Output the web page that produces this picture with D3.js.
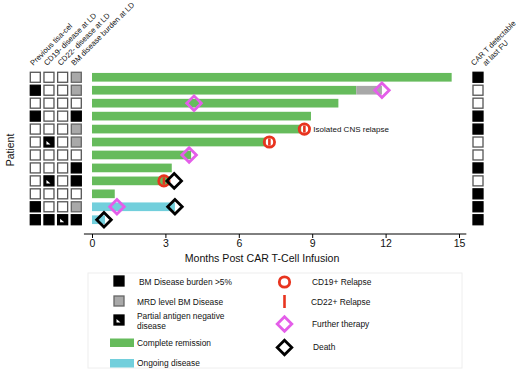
<!DOCTYPE html>
<html>
<head>
<meta charset="utf-8">
<script src="https://cdn.jsdelivr.net/npm/d3@7"></script>
<style>
  body { margin: 0; background: #fff; }
  text { font-family: "Liberation Sans", Arial, sans-serif; fill: #111; }
</style>
</head>
<body>
<script>
// one row per patient, top to bottom
const patients = ["1","2","3","4","5","6","7","8","9","10","11","12"];

// bar segments (months)
const remissionEnd = [14.7, 10.8, 10.07, 8.95, 8.55, 7.1, 4.05, 3.26, 3.19, 0.93, 0, 0];
const mrdEnd       = [0, 11.85, 0, 0, 0, 0, 0, 0, 0, 0, 0, 0];
const ongoingEnd   = [0, 0, 0, 0, 0, 0, 0, 0, 0, 0, 3.39, 0.53];

// events (months, null = none)
const cd19Relapse    = [null, null, null, null, 8.68, 7.25, null, null, 2.94, null, null, null];
const cd22Relapse    = [null, null, null, null, 8.68, 7.25, null, null, 2.94, null, null, null];
const furtherTherapy = [null, 11.85, 4.17, null, null, null, 3.97, null, null, null, 1.02, null];
const death          = [null, null, null, null, null, null, null, null, 3.36, null, 3.39, 0.49];
const notes          = [null, null, null, null, "Isolated CNS relapse", null, null, null, null, null, null, null];

// status boxes: 0 none, 1 >5% burden, 2 MRD level, 3 partial antigen negative
const gridColumns = ["Previous tisa-cel", "CD19- disease at LD", "CD22- disease at LD", "BM disease burden at LD"];
const prevTisacel = [0, 1, 0, 1, 0, 0, 0, 0, 0, 0, 1, 1];
const cd19Neg     = [0, 0, 0, 0, 0, 3, 0, 0, 3, 0, 0, 1];
const cd22Neg     = [0, 0, 0, 0, 0, 0, 0, 0, 0, 0, 0, 3];
const bmBurden    = [2, 2, 0, 1, 2, 2, 0, 1, 1, 0, 2, 1];
const cartDetect  = [1, 0, 0, 1, 1, 0, 0, 1, 0, 1, 1, 1];

const xTicks = [0, 3, 6, 9, 12, 15];

const green = "#66bb5c", cyan = "#72cfdc", grey = "#a8a8a8",
      red = "#e8341f", magenta = "#e45ee9";

const svg = d3.select("body").append("svg")
    .attr("width", 520)
    .attr("height", 372);

var x = d3.scaleLinear().domain([0, 15]).range([92, 459]);
var y = d3.scaleBand().domain(patients).range([70.8, 226.2]).paddingInner(0.33).paddingOuter(0.165);
var col = d3.scalePoint().domain(gridColumns).range([35.3, 76.3]);

const rows = patients.map(function(p, i) {
  return {p: p, cr: remissionEnd[i], mrd: mrdEnd[i], ong: ongoingEnd[i],
          c19: cd19Relapse[i], c22: cd22Relapse[i], ft: furtherTherapy[i],
          death: death[i], note: notes[i],
          grid: [prevTisacel[i], cd19Neg[i], cd22Neg[i], bmBurden[i]], cart: cartDetect[i]};
});

// ---- status boxes ----
const box = 10;
function drawBox(g, cx, cy, v) {
  g.append("rect")
    .attr("x", cx - box / 2).attr("y", cy - box / 2)
    .attr("width", box).attr("height", box)
    .attr("fill", v === 1 || v === 3 ? "#000" : v === 2 ? "#a9a9a9" : "#fff")
    .attr("stroke", v === 0 ? "#555" : v === 2 ? "#666" : "#000")
    .attr("stroke-width", 1.3);
  if (v === 3) {
    g.append("path")
      .attr("d", "M" + (cx - 2.5) + "," + (cy - 1) + "L" + (cx - 2.5) + "," + (cy + 2.5) + "L" + (cx + 1.5) + "," + (cy + 2.5) + "Z")
      .attr("fill", "#fff");
  }
}

const gridG = svg.append("g");
rows.forEach(function(r) {
  var cy = y(r.p) + y.bandwidth() / 2;
  gridColumns.forEach(function(c, j) { drawBox(gridG, col(c), cy, r.grid[j]); });
  drawBox(gridG, 478, cy, r.cart);
});

// column headers
gridG.selectAll(".hdr")
  .data(gridColumns)
  .enter().append("text")
    .attr("class", "hdr")
    .attr("transform", function(d) { return "translate(" + (col(d) - 2) + ",66) rotate(-45)"; })
    .attr("font-size", 7.6)
    .text(function(d) { return d; });

var cartHdr = gridG.append("text")
    .attr("transform", "translate(474,66) rotate(-45)")
    .attr("font-size", 7.6);
cartHdr.append("tspan").attr("x", 0).attr("dy", 0).text("CAR T detectable");
cartHdr.append("tspan").attr("x", 8).attr("dy", 8.5).text("at last FU");

svg.append("text")
    .attr("transform", "translate(14,150) rotate(-90)")
    .attr("text-anchor", "middle")
    .attr("font-size", 10.5)
    .text("Patient");

// ---- bars ----
const bars = svg.append("g");
bars.selectAll(".cr")
  .data(rows.filter(function(d) { return d.cr > 0; }))
  .enter().append("rect")
    .attr("x", x(0)).attr("y", function(d) { return y(d.p); })
    .attr("width", function(d) { return x(d.cr) - x(0); })
    .attr("height", y.bandwidth())
    .attr("fill", green);

bars.selectAll(".mrd")
  .data(rows.filter(function(d) { return d.mrd > 0; }))
  .enter().append("rect")
    .attr("x", function(d) { return x(d.cr); }).attr("y", function(d) { return y(d.p); })
    .attr("width", function(d) { return x(d.mrd) - x(d.cr); })
    .attr("height", y.bandwidth())
    .attr("fill", grey);

bars.selectAll(".ong")
  .data(rows.filter(function(d) { return d.ong > 0; }))
  .enter().append("rect")
    .attr("x", x(0)).attr("y", function(d) { return y(d.p); })
    .attr("width", function(d) { return x(d.ong) - x(0); })
    .attr("height", y.bandwidth())
    .attr("fill", cyan);

// ---- markers ----
function diamond(g, cx, cy, color) {
  var s = 7.3;
  g.append("path")
    .attr("d", "M" + cx + "," + (cy - s) + "L" + (cx + s) + "," + cy + "L" + cx + "," + (cy + s) + "L" + (cx - s) + "," + cy + "Z")
    .attr("fill", "none").attr("stroke", color).attr("stroke-width", 2.8);
}
function relapse19(g, cx, cy) {
  g.append("circle").attr("cx", cx).attr("cy", cy).attr("r", 5.2)
    .attr("fill", "none").attr("stroke", red).attr("stroke-width", 2.8);
}
function relapse22(g, cx, cy, h) {
  g.append("line").attr("x1", cx).attr("x2", cx).attr("y1", cy - h).attr("y2", cy + h)
    .attr("stroke", red).attr("stroke-width", 2.6);
}

const marks = svg.append("g");
rows.forEach(function(r) {
  var cy = y(r.p) + y.bandwidth() / 2;
  if (r.c19 != null) relapse19(marks, x(r.c19), cy);
  if (r.c22 != null) relapse22(marks, x(r.c22), cy, 3.6);
  if (r.ft != null) diamond(marks, x(r.ft), cy, magenta);
  if (r.death != null) diamond(marks, x(r.death), cy, "#000");
  if (r.note) {
    marks.append("text")
      .attr("x", x(r.c19) + 9).attr("y", cy + 3)
      .attr("font-size", 8)
      .text(r.note);
  }
});

// ---- axis ----
const axisY = 234;
const xAxis = svg.append("g")
    .attr("transform", "translate(0," + axisY + ")")
    .call(d3.axisBottom(x).tickValues(xTicks).tickSize(4).tickSizeOuter(0).tickPadding(2));
xAxis.select(".domain").remove();
xAxis.append("line")
    .attr("x1", x(-0.33)).attr("x2", x(15.3))
    .attr("stroke", "#000");
xAxis.selectAll("text")
    .attr("font-size", 10.5)
    .attr("font-family", "Liberation Sans, Arial, sans-serif")
    .attr("fill", "#111");

svg.append("text")
    .attr("x", 262).attr("y", 262)
    .attr("text-anchor", "middle")
    .attr("font-size", 10.6)
    .text("Months Post CAR T-Cell Infusion");

// ---- legend ----
const leg = svg.append("g");
leg.append("rect")
    .attr("x", 88).attr("y", 273).attr("width", 374).attr("height", 95)
    .attr("fill", "none").attr("stroke", "#eee");

drawBox(leg, 119, 281, 1);
drawBox(leg, 119, 301, 2);
drawBox(leg, 119, 320, 3);
leg.append("rect").attr("x", 110).attr("y", 338.5).attr("width", 24).attr("height", 8.5).attr("fill", green);
leg.append("rect").attr("x", 110).attr("y", 359).attr("width", 24).attr("height", 8.5).attr("fill", cyan);

const legLeft = [
  ["BM Disease burden >5%", 139, 284.5],
  ["MRD level BM Disease", 137, 304.5],
  ["Partial antigen negative", 137, 319],
  ["disease", 137, 329],
  ["Complete remission", 137, 345.5],
  ["Ongoing disease", 137, 366]
];
leg.selectAll(".ll")
  .data(legLeft)
  .enter().append("text")
    .attr("x", function(d) { return d[1]; }).attr("y", function(d) { return d[2]; })
    .attr("font-size", 8.4)
    .text(function(d) { return d[0]; });

relapse19(leg, 284.5, 282);
relapse22(leg, 284.5, 301.5, 6.5);
diamond(leg, 284.5, 324, magenta);
diamond(leg, 284.5, 347.5, "#000");

const legRight = [
  ["CD19+ Relapse", 312, 285],
  ["CD22+ Relapse", 311, 304.5],
  ["Further therapy", 312, 327],
  ["Death", 313, 350]
];
leg.selectAll(".lr")
  .data(legRight)
  .enter().append("text")
    .attr("x", function(d) { return d[1]; }).attr("y", function(d) { return d[2]; })
    .attr("font-size", 8.4)
    .text(function(d) { return d[0]; });
</script>
</body>
</html>
